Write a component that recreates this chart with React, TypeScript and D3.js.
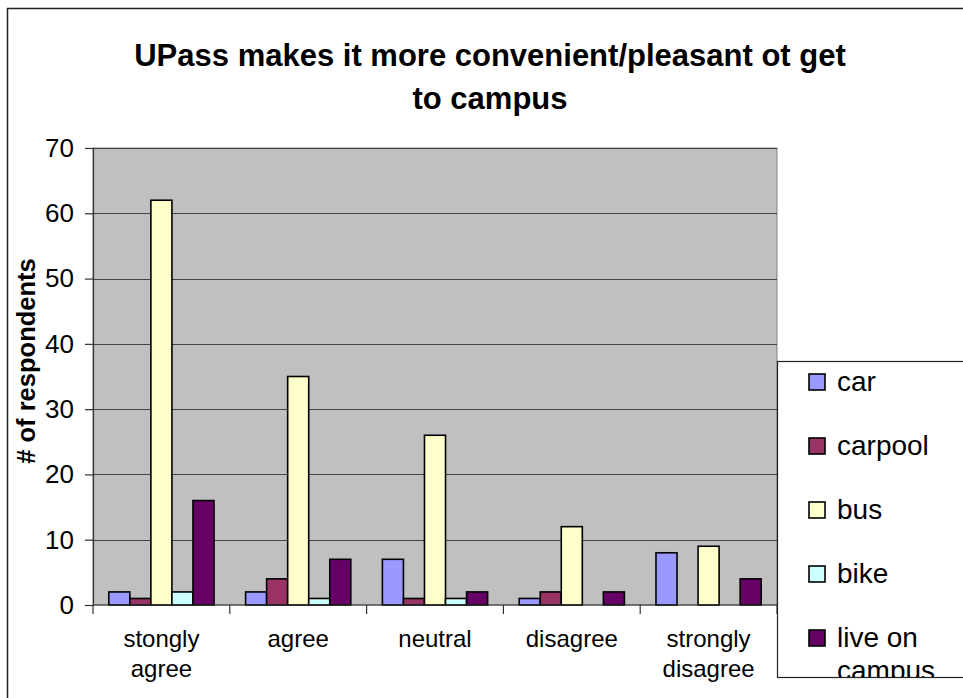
import React, { useEffect, useRef } from 'react';
import * as d3 from 'd3';

const categories = ['stongly agree', 'agree', 'neutral', 'disagree', 'strongly disagree'];
const categoryLines = [['stongly', 'agree'], ['agree'], ['neutral'], ['disagree'], ['strongly', 'disagree']];

const seriesNames = ['car', 'carpool', 'bus', 'bike', 'live on campus'];
const legendLines = [['car'], ['carpool'], ['bus'], ['bike'], ['live on', 'campus']];

const car = [2, 2, 7, 1, 8];
const carpool = [1, 4, 1, 2, 0];
const bus = [62, 35, 26, 12, 9];
const bike = [2, 1, 1, 0, 0];
const liveOnCampus = [16, 7, 2, 2, 4];

const yTicks = [0, 10, 20, 30, 40, 50, 60, 70];

const seriesColors = ['#9999FF', '#993366', '#FFFFCC', '#CCFFFF', '#660066'];

const FONT = "'Liberation Sans', Arial, sans-serif";

export default function App() {
  const svgRef = useRef<SVGSVGElement>(null);

  useEffect(() => {
    const width = 963;
    const height = 698;
    const plot = { left: 93, right: 777, top: 148, bottom: 605 };

    const svg = d3.select(svgRef.current);
    svg.selectAll('*').remove();
    svg.attr('width', width).attr('height', height);

    const allSeries = [car, carpool, bus, bike, liveOnCampus];

    // chart area (cropped on right/bottom)
    svg.append('rect').attr('x', 0).attr('y', 0).attr('width', width).attr('height', height).attr('fill', '#fff');
    svg.append('path')
      .attr('d', `M7.5,${height + 2}V8.5H${width + 2}`)
      .attr('fill', 'none')
      .attr('stroke', '#222')
      .attr('stroke-width', 1.5);

    const x0 = d3.scaleBand<string>().domain(categories).range([plot.left, plot.right]).padding(0);
    const x1 = d3.scaleBand<string>().domain(seriesNames).range([0, x0.bandwidth()])
      .paddingInner(0).paddingOuter(0.75);
    const y = d3.scaleLinear().domain([0, 70]).range([plot.bottom, plot.top]);

    // plot area
    svg.append('rect')
      .attr('x', plot.left).attr('y', plot.top)
      .attr('width', plot.right - plot.left).attr('height', plot.bottom - plot.top)
      .attr('fill', '#C0C0C0')
      .attr('stroke', '#808080')
      .attr('stroke-width', 1);

    svg.append('g').selectAll('line')
      .data(yTicks.filter(d => d > 0))
      .enter().append('line')
      .attr('x1', plot.left).attr('x2', plot.right)
      .attr('y1', d => Math.round(y(d)) + 0.5).attr('y2', d => Math.round(y(d)) + 0.5)
      .attr('stroke', '#444').attr('stroke-width', 1);

    // bars
    allSeries.forEach((values, si) => {
      svg.append('g').selectAll('rect')
        .data(values.map((v, ci) => ({ v, c: categories[ci] })).filter(d => d.v > 0))
        .enter().append('rect')
        .attr('x', d => (x0(d.c) as number) + (x1(seriesNames[si]) as number))
        .attr('y', d => y(d.v))
        .attr('width', x1.bandwidth())
        .attr('height', d => y(0) - y(d.v))
        .attr('fill', seriesColors[si])
        .attr('stroke', '#000')
        .attr('stroke-width', 1.6);
    });

    // y axis
    const yAxis = d3.axisLeft(y).tickValues(yTicks).tickSize(8).tickPadding(11);
    const yg = svg.append('g').attr('transform', `translate(${plot.left},0)`).call(yAxis);
    yg.selectAll('text').attr('font-family', FONT).attr('font-size', 26).attr('fill', '#000');
    yg.selectAll('line, path').attr('stroke', '#333').attr('stroke-width', 1.2);

    // x axis
    const xg = svg.append('g').attr('transform', `translate(0,${plot.bottom})`);
    xg.append('line').attr('x1', plot.left).attr('x2', plot.right).attr('y1', 0).attr('y2', 0)
      .attr('stroke', '#333').attr('stroke-width', 1.2);
    const boundaries = categories.map(c => x0(c) as number).concat([plot.right]);
    xg.selectAll('line.tick').data(boundaries).enter().append('line')
      .attr('class', 'tick')
      .attr('x1', d => d).attr('x2', d => d).attr('y1', 0).attr('y2', 9)
      .attr('stroke', '#333').attr('stroke-width', 1.2);
    categories.forEach((c, i) => {
      const cx = (x0(c) as number) + x0.bandwidth() / 2;
      categoryLines[i].forEach((line, li) => {
        xg.append('text')
          .attr('x', cx).attr('y', 42 + li * 30)
          .attr('text-anchor', 'middle')
          .attr('font-family', FONT).attr('font-size', 24)
          .text(line);
      });
    });

    // y axis title
    svg.append('text')
      .attr('transform', 'translate(35,361) rotate(-90)')
      .attr('text-anchor', 'middle')
      .attr('font-family', FONT).attr('font-size', 25.5).attr('font-weight', 'bold')
      .text('# of respondents');

    // title
    ['UPass makes it more convenient/pleasant ot get', 'to campus'].forEach((line, i) => {
      svg.append('text')
        .attr('x', 490).attr('y', 66 + i * 43)
        .attr('text-anchor', 'middle')
        .attr('font-family', FONT).attr('font-size', 31).attr('font-weight', 'bold')
        .text(line);
    });

    // legend
    const legend = svg.append('g');
    legend.append('clipPath').attr('id', 'legend-clip')
      .append('rect').attr('x', 777).attr('y', 361).attr('width', 300).attr('height', 316);
    legend.append('rect')
      .attr('x', 777.5).attr('y', 361.5).attr('width', 300).attr('height', 316)
      .attr('fill', '#fff').attr('stroke', '#222').attr('stroke-width', 1.2);
    const items = legend.append('g').attr('clip-path', 'url(#legend-clip)');
    seriesNames.forEach((name, i) => {
      const base = 391 + i * 64;
      items.append('rect')
        .attr('x', 809).attr('y', base - 17).attr('width', 16).attr('height', 16)
        .attr('fill', seriesColors[i]).attr('stroke', '#000').attr('stroke-width', 1.6);
      legendLines[i].forEach((line, li) => {
        items.append('text')
          .attr('x', 837).attr('y', base + li * 33)
          .attr('font-family', FONT).attr('font-size', 28)
          .text(line);
      });
    });
  }, []);

  return (
    <div style={{ position: 'absolute', left: 0, top: 0 }}>
      <svg ref={svgRef} style={{ display: 'block' }}></svg>
    </div>
  );
}
